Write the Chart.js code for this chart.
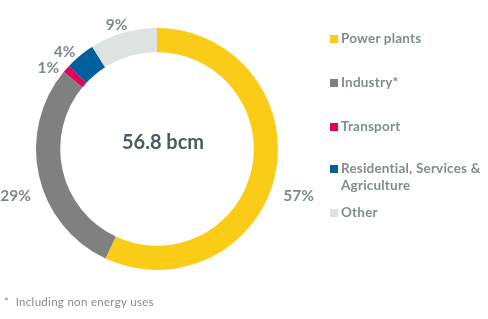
<!DOCTYPE html>
<html>
<head>
<meta charset="utf-8">
<script src="https://cdn.jsdelivr.net/npm/chart.js@4"></script>
<style>
  body { margin: 0; background: #fff; }
  #wrap { position: relative; width: 488px; height: 319px; font-family: Lato, "Open Sans", sans-serif; }
  #myChart { position: absolute; left: 0; top: 0; }
  #legend { position: absolute; left: 330px; top: 0; list-style: none; margin: 0; padding: 0; }
  #legend li { position: absolute; left: 0; width: 160px; color: #7f8c90; font-size: 13.5px; letter-spacing: 0.2px; font-weight: bold; line-height: 17px; padding-left: 11px; }
  #legend span { position: absolute; left: 0; top: 5px; width: 8px; height: 8px; }
  #note { position: absolute; left: 4px; top: 295px; color: #8a8a8a; font-size: 11.5px; letter-spacing: 0.3px; }
</style>
</head>
<body>
<div id="wrap">
  <canvas id="myChart" width="488" height="319"></canvas>
  <ul id="legend"></ul>
  <div id="note">*&nbsp; Including non energy uses</div>
</div>
<script>
const labels = ["Power plants", "Industry*", "Transport", "Residential, Services & Agriculture", "Other"];
const shares = [57, 29, 1, 4, 9];
const colors = ["#facc18", "#808080", "#e2005a", "#00609c", "#dee2e0"];
const legendTops = [30, 74, 118, 160, 204];
const total = "56.8 bcm";

const ctx = document.getElementById('myChart');

// percentage labels outside the ring
const outsideLabels = {
    id: 'outsideLabels',
    afterDatasetsDraw(chart) {
        const c = chart.ctx;
        const arcs = chart.getDatasetMeta(0).data;
        c.save();
        c.font = "bold 15.5px Lato, 'Open Sans', sans-serif";
        c.fillStyle = "#7c8a8f";
        c.textAlign = "center";
        c.textBaseline = "middle";
        arcs.forEach((arc, i) => {
            const mid = (arc.startAngle + arc.endAngle) / 2;
            const r = arc.outerRadius + 24;
            const x = arc.x + Math.cos(mid) * r;
            const y = arc.y + Math.sin(mid) * r + 15;
            c.fillText(shares[i] + "%", x, y);
        });
        c.restore();
    }
};

// total in the hole
const centerText = {
    id: 'centerText',
    afterDatasetsDraw(chart) {
        const arc = chart.getDatasetMeta(0).data[0];
        const c = chart.ctx;
        c.save();
        c.font = "bold 20px Lato, 'Open Sans', sans-serif";
        c.fillStyle = "#4c5a63";
        c.textAlign = "center";
        c.textBaseline = "middle";
        c.fillText(total, arc.x + 6, arc.y - 6);
        c.restore();
    }
};

new Chart(ctx, {
    type: 'doughnut',
    data: {
        labels: labels,
        datasets: [{
            data: shares,
            backgroundColor: colors,
            borderWidth: 0,
            hoverOffset: 0
        }]
    },
    options: {
        responsive: false,
        animation: false,
        cutout: '80%',
        layout: { padding: { left: 36, right: 210, top: 28, bottom: 49 } },
        plugins: {
            legend: { display: false },
            tooltip: { enabled: false }
        }
    },
    plugins: [outsideLabels, centerText]
});

// legend on the right
const ul = document.getElementById("legend");
labels.forEach((name, i) => {
    const li = document.createElement("li");
    li.style.top = legendTops[i] + "px";
    const sw = document.createElement("span");
    sw.style.background = colors[i];
    li.appendChild(sw);
    li.appendChild(document.createTextNode(name));
    ul.appendChild(li);
});
</script>
</body>
</html>
